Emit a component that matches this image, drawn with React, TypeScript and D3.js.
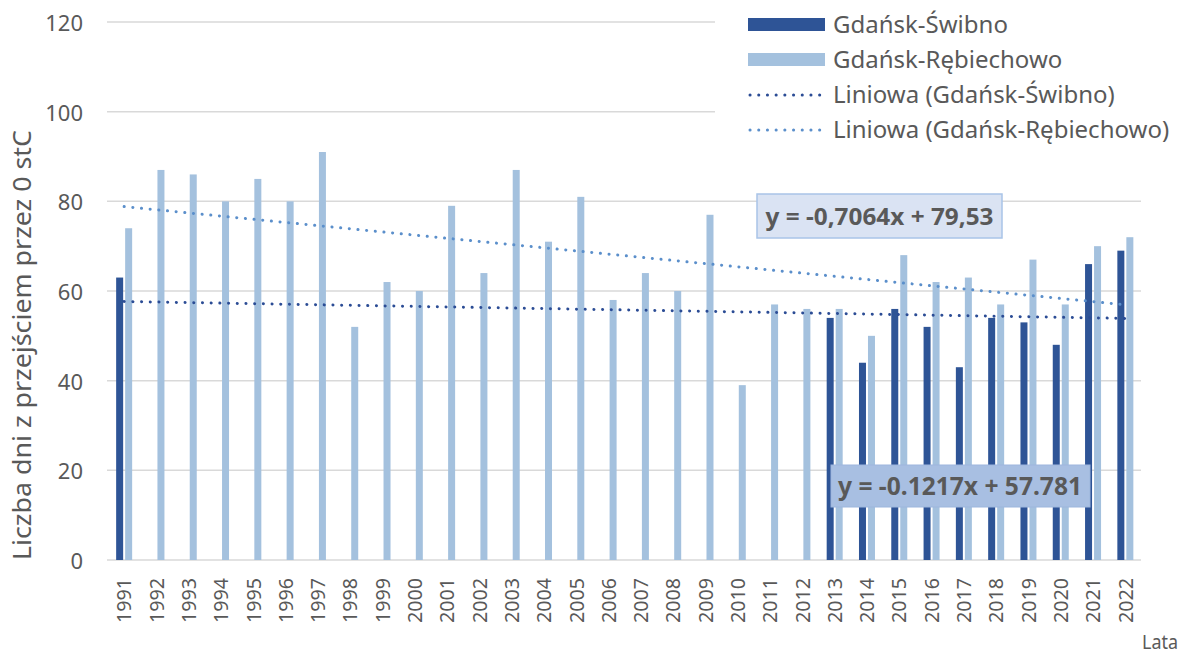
import React from "react";
import * as d3 from "d3";

const years = d3.range(1991, 2023).map(String);
const swibno: (number | null)[] = [
  63, null, null, null, null, null, null, null, null, null, null,
  null, null, null, null, null, null, null, null, null, null, null,
  54, 44, 56, 52, 43, 54, 53, 48, 66, 69,
];
const rebiechowo: number[] = [
  74, 87, 86, 80, 85, 80, 91, 52, 62, 60, 79, 64, 87, 71, 81, 58,
  64, 60, 77, 39, 57, 56, 56, 50, 68, 62, 63, 57, 67, 57, 70, 72,
];
const yTicks = [0, 20, 40, 60, 80, 100, 120];
const trendSlopes = [-0.1217, -0.7064];
const trendIntercepts = [57.781, 79.53];
const equationLabels = ["y = -0.1217x + 57.781", "y = -0,7064x + 79,53"];
const legendLabels = [
  "Gdańsk-Świbno",
  "Gdańsk-Rębiechowo",
  "Liniowa (Gdańsk-Świbno)",
  "Liniowa (Gdańsk-Rębiechowo)",
];

const W = 1184;
const H = 657;
const DARK = "#2E5496";
const LIGHT = "#A4C1DE";
const TREND_DARK = "#2B4C95";
const TREND_LIGHT = "#5B8FCB";
const TEXT = "#595959";
const GRID = "#D9D9D9";
const FONT = "'Noto Sans', 'Open Sans', sans-serif";

export default function App() {
  const x = d3.scaleBand<string>().domain(years).range([108, 1141.5]).padding(0);
  const y = d3.scaleLinear().domain([0, 120]).range([560, 22]);
  const c = (i: number) => (x(years[i]) as number) + x.bandwidth() / 2;
  const barW = 7;

  const trendLine = (k: number) => {
    const pts: [number, number][] = [0, years.length - 1].map((i) => [
      c(i),
      y(trendSlopes[k] * (i + 1) + trendIntercepts[k]),
    ]);
    return d3.line()(pts) as string;
  };

  return (
    <svg
      width={W}
      height={H}
      style={{ display: "block", position: "absolute", left: 0, top: 0, background: "#fff" }}
      fontFamily={FONT}
    >
      <rect width={W} height={H} fill="#fff" />
      {yTicks.map((t) => (
        <line key={t} x1={107} x2={1141} y1={y(t)} y2={y(t)} stroke={GRID} strokeWidth={1.5} />
      ))}
      {yTicks.map((t) => (
        <text
          key={"l" + t}
          x={83}
          y={y(t) + 1}
          dy="0.36em"
          textAnchor="end"
          fontSize={22}
          fill={TEXT}
        >
          {t}
        </text>
      ))}
      {swibno.map((v, i) =>
        v == null ? null : (
          <rect key={"s" + i} x={c(i) - 8} y={y(v)} width={barW} height={y(0) - y(v)} fill={DARK} />
        )
      )}
      {rebiechowo.map((v, i) => (
        <rect key={"r" + i} x={c(i) + 1} y={y(v)} width={barW} height={y(0) - y(v)} fill={LIGHT} />
      ))}
      <path
        d={trendLine(1)}
        stroke={TREND_LIGHT}
        strokeWidth={3}
        strokeLinecap="round"
        strokeDasharray="0.1 8.6"
        fill="none"
      />
      <path
        d={trendLine(0)}
        stroke={TREND_DARK}
        strokeWidth={3}
        strokeLinecap="round"
        strokeDasharray="0.1 8.6"
        fill="none"
      />
      <rect x={757} y={194} width={245} height={44} fill="#DAE3F3" stroke="#A9C4E8" strokeWidth={1.5} />
      <text
        x={879.5}
        y={216}
        dy="0.36em"
        textAnchor="middle"
        fontSize={24}
        fontWeight="bold"
        fill={TEXT}
        textLength={228}
        lengthAdjust="spacingAndGlyphs"
      >
        {equationLabels[1]}
      </text>
      <rect x={831} y={465} width={259} height={42} fill="#A8BFE2" stroke="#9DB6DD" strokeWidth={1} />
      <text
        x={960}
        y={486}
        dy="0.36em"
        textAnchor="middle"
        fontSize={25}
        fontWeight="bold"
        fill={TEXT}
        textLength={244}
        lengthAdjust="spacingAndGlyphs"
      >
        {equationLabels[0]}
      </text>
      {years.map((yr, i) => (
        <text
          key={"x" + yr}
          transform={`translate(${c(i)},578) rotate(-90)`}
          dy="0.36em"
          textAnchor="end"
          fontSize={20}
          fill={TEXT}
          textLength={45}
          lengthAdjust="spacingAndGlyphs"
        >
          {yr}
        </text>
      ))}
      <text
        transform="translate(22,345) rotate(-90)"
        dy="0.36em"
        textAnchor="middle"
        fontSize={26}
        fill={TEXT}
        textLength={430}
        lengthAdjust="spacingAndGlyphs"
      >
        Liczba dni z przejściem przez 0 stC
      </text>
      <text
        x={1178}
        y={642}
        dy="0.36em"
        textAnchor="end"
        fontSize={20}
        fill={TEXT}
        textLength={36}
        lengthAdjust="spacingAndGlyphs"
      >
        Lata
      </text>
      <rect x={715} y={0} width={469} height={150} fill="#fff" />
      {legendLabels.map((lab, i) => {
        const cy = [24, 59, 94, 129][i];
        return (
          <g key={lab}>
            {i < 2 ? (
              <rect x={748} y={cy - 6} width={77} height={13} fill={i === 0 ? DARK : LIGHT} />
            ) : (
              <line
                x1={750}
                x2={823}
                y1={cy + 1}
                y2={cy + 1}
                stroke={i === 2 ? TREND_DARK : TREND_LIGHT}
                strokeWidth={3}
                strokeLinecap="round"
                strokeDasharray="0.1 8.6"
              />
            )}
            <text x={833} y={cy} dy="0.36em" fontSize={24} fill={TEXT}>
              {lab}
            </text>
          </g>
        );
      })}
    </svg>
  );
}
